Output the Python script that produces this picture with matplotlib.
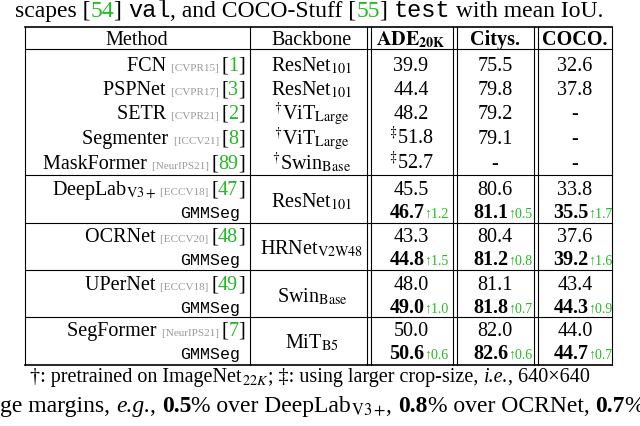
import matplotlib
matplotlib.use("Agg")
import matplotlib.pyplot as plt

plt.rcParams['font.family'] = ['Liberation Serif', 'DejaVu Sans']
plt.rcParams['mathtext.fontset'] = 'stix'

GREEN = '#22bb22'
GREY = '#999999'

# table data
methods = ["FCN", "PSPNet", "SETR", "Segmenter", "MaskFormer"]
venues = ["[CVPR15]", "[CVPR17]", "[CVPR21]", "[ICCV21]", "[NeurIPS21]"]
refs = ["1", "3", "2", "8", "89"]
backbones = [r"ResNet$_{101}$", r"ResNet$_{101}$", r"$^{\dagger}$ViT$_{\mathrm{Large}}$",
             r"$^{\dagger}$ViT$_{\mathrm{Large}}$", r"$^{\dagger}$Swin$_{\mathrm{Base}}$"]
ade = ["39.9", "44.4", "48.2", r"$^{\ddagger}$51.8", r"$^{\ddagger}$52.7"]
citys = ["75.5", "79.8", "79.2", "79.1", "-"]
coco = ["32.6", "37.8", "-", "-", "-"]

g_methods = ["DeepLab$_{\\mathrm{V3+}}$", "OCRNet", "UPerNet", "SegFormer"]
g_venues = ["[ECCV18]", "[ECCV20]", "[ECCV18]", "[NeurIPS21]"]
g_refs = ["47", "48", "49", "7"]
g_backbones = [r"ResNet$_{101}$", r"HRNet$_{\mathrm{V2W48}}$", r"Swin$_{\mathrm{Base}}$", r"MiT$_{\mathrm{B5}}$"]
g_base_ade = ["45.5", "43.3", "48.0", "50.0"]
g_base_city = ["80.6", "80.4", "81.1", "82.0"]
g_base_coco = ["33.8", "37.6", "43.4", "44.0"]
g_ade = ["46.7", "44.8", "49.0", "50.6"]
g_city = ["81.1", "81.2", "81.8", "82.6"]
g_coco = ["35.5", "39.2", "44.3", "44.7"]
d_ade = ["1.2", "1.5", "1.0", "0.6"]
d_city = ["0.5", "0.8", "0.7", "0.6"]
d_coco = ["1.7", "1.6", "0.9", "0.7"]

fig = plt.figure(figsize=(6.4, 4.27), dpi=100)
ax = fig.add_axes([0, 0, 1, 1])
ax.set_xlim(0, 640)
ax.set_ylim(427, 0)
ax.axis('off')
R = fig.canvas.get_renderer()

FS = 14.5


def seq(x, y, pieces, ha='left'):
    arts = []
    for txt, kw in pieces:
        kw = dict(kw)
        kw.setdefault('fontsize', FS)
        arts.append(ax.text(0, y, txt, va='baseline', ha='left', **kw))
    ws = [a.get_window_extent(R).width for a in arts]
    tot = sum(ws)
    x0 = x if ha == 'left' else (x - tot if ha == 'right' else x - tot / 2)
    for a, w in zip(arts, ws):
        a.set_x(x0)
        x0 += w


BIG = 17
TT = dict(family='Liberation Mono', fontsize=BIG)
seq(15, 17, [("scapes [", dict(fontsize=BIG)), ("54", dict(color=GREEN, fontsize=BIG)), ("] ", dict(fontsize=BIG)),
             ("val", TT), (", and COCO-Stuff [", dict(fontsize=BIG)), ("55", dict(color=GREEN, fontsize=BIG)),
             ("] ", dict(fontsize=BIG)), ("test", TT), (" with mean IoU.", dict(fontsize=BIG))], ha='left')

# grid lines
L, Rr = 25, 612
vl = [25, 250, 367, 371, 453, 457, 534, 538, 612]
ax.plot([L, Rr], [28, 28], color='k', lw=1.2)
ax.plot([L, Rr], [50, 50], color='k', lw=0.8)
ax.plot([L, Rr], [366, 366], color='k', lw=1.2)
for sy in [176, 224, 271, 318]:
    ax.plot([L, Rr], [sy, sy], color='k', lw=0.8)
for vx in vl:
    ax.plot([vx, vx], [28, 366], color='k', lw=0.8)

cx_m, cx_b, cx_a, cx_c, cx_o = 137, 312, 411, 495, 575
seq(cx_m, 45, [("Method", {})], 'center')
seq(cx_b, 45, [("Backbone", {})], 'center')
seq(cx_a, 45, [(r"$\mathbf{ADE}_{\mathbf{20K}}$", {})], 'center')
seq(cx_c, 45, [("Citys.", dict(weight='bold'))], 'center')
seq(cx_o, 45, [("COCO.", dict(weight='bold'))], 'center')

rows_y = [71, 95, 119, 144, 169]
for i, y in enumerate(rows_y):
    seq(245, y, [(methods[i] + " ", {}), (venues[i] + " ", dict(color=GREY, fontsize=8)),
                 ("[", {}), (refs[i], dict(color=GREEN)), ("]", {})], 'right')
    seq(cx_b, y, [(backbones[i], {})], 'center')
    seq(cx_a, y, [(ade[i], {})], 'center')
    seq(cx_c, y, [(citys[i], {})], 'center')
    seq(cx_o, y, [(coco[i], {})], 'center')

group_y = [195, 242, 290, 336]
for i, y in enumerate(group_y):
    y2 = y + 23
    seq(245, y, [(g_methods[i] + " ", {}), (g_venues[i] + " ", dict(color=GREY, fontsize=8)),
                 ("[", {}), (g_refs[i], dict(color=GREEN)), ("]", {})], 'right')
    seq(180, y2, [("GMMSeg", dict(family='Liberation Mono', fontsize=12))], 'left')
    seq(cx_b, y + 12, [(g_backbones[i], {})], 'center')
    for cx, b, g, d in [(cx_a, g_base_ade, g_ade, d_ade), (cx_c, g_base_city, g_city, d_city),
                        (cx_o, g_base_coco, g_coco, d_coco)]:
        seq(cx, y, [(b[i], {})], 'center')
        seq(cx + 8, y2, [(g[i], dict(weight='bold')), ("↑" + d[i], dict(color=GREEN, fontsize=10))], 'center')

seq(30, 382, [("†: pretrained on ImageNet", {}), (r"$_{22K}$", {}), ("; ‡: using larger crop-size, ", {}),
              ("i.e.", dict(style='italic')), (", 640×640", {})], 'left')
seq(0, 412, [("ge margins, ", dict(fontsize=BIG)), ("e.g.", dict(style='italic', fontsize=BIG)), (", ", dict(fontsize=BIG)),
             ("0.5", dict(weight='bold', fontsize=BIG)), ("% over DeepLab", dict(fontsize=BIG)),
             (r"$_{\mathrm{V3+}}$", dict(fontsize=BIG)), (", ", dict(fontsize=BIG)),
             ("0.8", dict(weight='bold', fontsize=BIG)), ("% over OCRNet, ", dict(fontsize=BIG)),
             ("0.7", dict(weight='bold', fontsize=BIG)), ("%", dict(fontsize=BIG))], 'left')

fig.savefig("out.png", dpi=100)
